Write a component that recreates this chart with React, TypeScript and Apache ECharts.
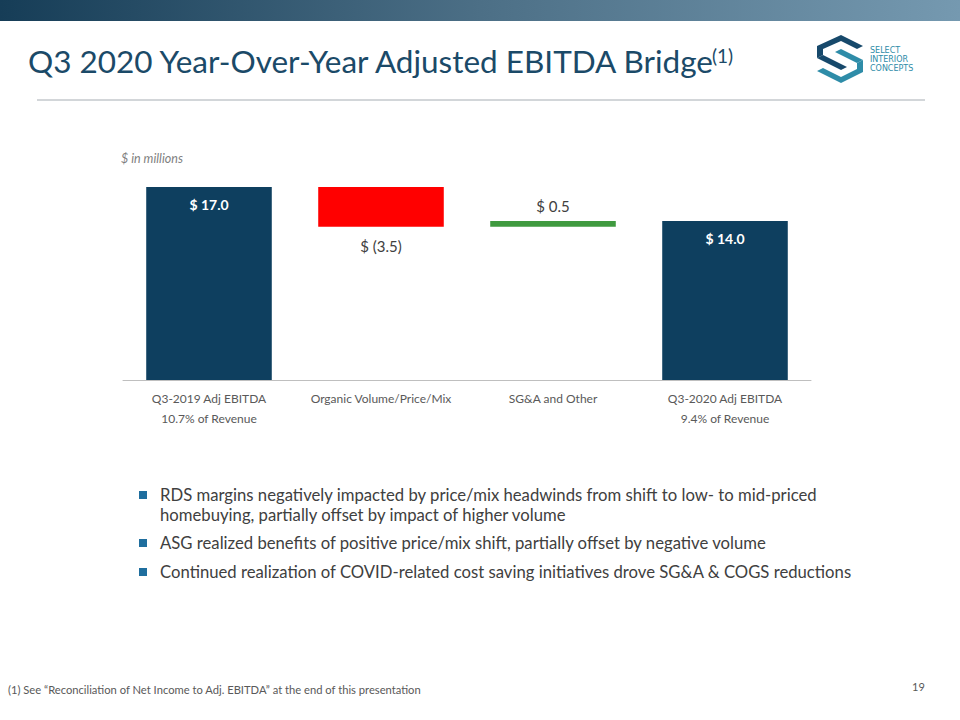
import React, { useEffect, useRef } from "react";
import * as echarts from "echarts";

const categories = ["Q3-2019 Adj EBITDA", "Organic Volume/Price/Mix", "SG&A and Other", "Q3-2020 Adj EBITDA"];
const subLabels = ["10.7% of Revenue", "", "", "9.4% of Revenue"];
const values = [17.0, -3.5, 0.5, 14.0];
const kinds = ["total", "delta", "delta", "total"];
const bullets = [
  ["RDS margins negatively impacted by price/mix headwinds from shift to low- to mid-priced", "homebuying, partially offset by impact of higher volume"],
  ["ASG realized benefits of positive price/mix shift, partially offset by negative volume"],
  ["Continued realization of COVID-related cost saving initiatives drove SG&A & COGS reductions"],
];

const NAVY = "#0E3F5F";
const FONT = "Lato";

function fmt(v: number) {
  return v < 0 ? `$ (${Math.abs(v).toFixed(1)})` : `$ ${v.toFixed(1)}`;
}

export default function App() {
  const ref = useRef<HTMLDivElement>(null);
  useEffect(() => {
    if (!ref.current) return;
    const chart = echarts.init(ref.current, null, { renderer: "svg" });
    let running = 0;
    const base: number[] = [];
    const bars: any[] = [];
    values.forEach((v, i) => {
      if (kinds[i] === "total") {
        running = v;
        base.push(0);
        bars.push({
          value: v,
          itemStyle: { color: NAVY },
          label: { show: true, position: "insideTop", distance: 10, color: "#fff", fontWeight: "bold", fontSize: 14, fontFamily: FONT, formatter: fmt(v) },
        });
      } else if (v < 0) {
        running += v;
        base.push(running);
        bars.push({
          value: -v,
          itemStyle: { color: "#FF0000" },
          label: { show: true, position: "bottom", distance: 12, color: "#404040", fontSize: 15, fontFamily: FONT, formatter: fmt(v) },
        });
      } else {
        base.push(running);
        running += v;
        bars.push({
          value: v,
          itemStyle: { color: "#3F9A3F" },
          label: { show: true, position: "top", distance: 8, color: "#404040", fontSize: 15, fontFamily: FONT, formatter: fmt(v) },
        });
      }
    });

    const bulletGraphics: any[] = [];
    const bulletY = [495, 543, 572];
    bullets.forEach((lines, i) => {
      bulletGraphics.push({ type: "rect", shape: { x: 139, y: bulletY[i] - 4, width: 8, height: 8 }, style: { fill: "#1F6E9E" } });
      lines.forEach((t, j) => {
        bulletGraphics.push({
          type: "text", x: 160, y: bulletY[i] + j * 20,
          style: { text: t, fill: "#404040", fontSize: 16.7, fontFamily: FONT, textVerticalAlign: "middle" },
        });
      });
    });

    chart.setOption({
      animation: false,
      backgroundColor: "#ffffff",
      grid: { left: 123, right: 149, top: 187, bottom: 340 },
      xAxis: {
        type: "category",
        data: categories.map((c, i) => (subLabels[i] ? `${c}\n${subLabels[i]}` : c)),
        axisLine: { lineStyle: { color: "#BFBFBF", width: 1 } },
        axisTick: { show: false },
        axisLabel: { color: "#595959", fontSize: 12, fontFamily: FONT, lineHeight: 20, margin: 8, interval: 0 },
      },
      yAxis: { type: "value", min: 0, max: 17, show: false, splitLine: { show: false } },
      series: [
        { type: "bar", stack: "w", data: base, itemStyle: { color: "transparent" }, barWidth: "73%", silent: true },
        { type: "bar", stack: "w", data: bars, barWidth: "73%" },
      ],
      graphic: [
        {
          type: "rect", shape: { x: 0, y: 0, width: 960, height: 21 },
          style: {
            fill: new echarts.graphic.LinearGradient(0, 0, 1, 0, [
              { offset: 0, color: "#163D57" },
              { offset: 0.5, color: "#4C6F86" },
              { offset: 1, color: "#7599B0" },
            ]),
          },
        },
        {
          type: "text", x: 28, y: 61,
          style: { text: "Q3 2020 Year-Over-Year Adjusted EBITDA Bridge", fill: "#1B4A68", fontSize: 31.5, fontFamily: FONT, textVerticalAlign: "middle" },
        },
        {
          type: "text", x: 712, y: 55,
          style: { text: "(1)", fill: "#1B4A68", fontSize: 19, fontFamily: FONT, textVerticalAlign: "middle" },
        },
        { type: "line", shape: { x1: 37, y1: 100, x2: 925, y2: 100 }, style: { stroke: "#A6ADB3", lineWidth: 1 } },
        // logo
        { type: "polygon", shape: { points: [[817, 46], [841, 35], [863, 46], [857, 49], [841, 41], [823, 49], [823, 55], [817, 58]] }, style: { fill: "#17496B" } },
        { type: "polygon", shape: { points: [[817, 58], [823, 55], [847, 67], [841, 70]] }, style: { fill: "#17496B" } },
        { type: "polygon", shape: { points: [[835, 52], [841, 49], [863, 60], [857, 63]] }, style: { fill: "#2E8CA8" } },
        { type: "polygon", shape: { points: [[863, 60], [863, 72], [841, 83], [817, 71], [823, 68], [841, 77], [857, 69], [857, 63]] }, style: { fill: "#2E8CA8" } },
        { type: "text", x: 870, y: 50.5, style: { text: "SELECT", fill: "#2E8CA8", fontSize: 8, fontFamily: "DejaVu Sans", textVerticalAlign: "middle" } },
        { type: "text", x: 870, y: 59.5, style: { text: "INTERIOR", fill: "#2E8CA8", fontSize: 8, fontFamily: "DejaVu Sans", textVerticalAlign: "middle" } },
        { type: "text", x: 870, y: 68.5, style: { text: "CONCEPTS", fill: "#2E8CA8", fontSize: 8, fontFamily: "DejaVu Sans", textVerticalAlign: "middle" } },
        { type: "text", x: 121, y: 158, style: { text: "$ in millions", fill: "#7F7F7F", fontSize: 12.5, fontStyle: "italic", fontFamily: FONT, textVerticalAlign: "middle" } },
        ...bulletGraphics,
        { type: "text", x: 8, y: 689, style: { text: "(1) See \u201cReconciliation of Net Income to Adj. EBITDA\u201d at the end of this presentation", fill: "#595959", fontSize: 11.2, fontFamily: FONT, textVerticalAlign: "middle" } },
        { type: "text", x: 912, y: 686, style: { text: "19", fill: "#595959", fontSize: 11, fontFamily: FONT, textVerticalAlign: "middle" } },
      ],
    });
    return () => chart.dispose();
  }, []);
  return <div ref={ref} style={{ position: "absolute", left: 0, top: 0, width: 960, height: 720 }} />;
}
